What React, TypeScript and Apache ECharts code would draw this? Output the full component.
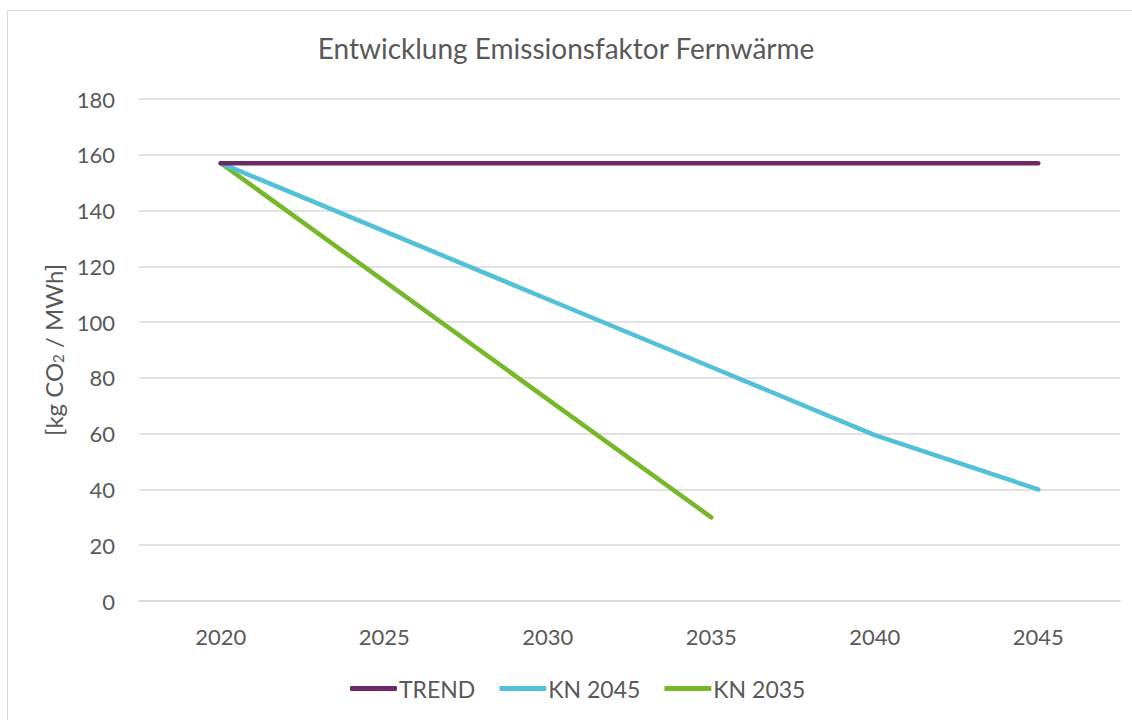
import React, { useEffect, useRef } from "react";
import * as echarts from "echarts";

const categories = ["2020", "2025", "2030", "2035", "2040", "2045"];
const trend = [157, 157, 157, 157, 157, 157];
const kn2045 = [157, 132.6, 108.2, 83.9, 59.5, 40];
const kn2035 = [157, 114.7, 72.3, 30, null, null];
const seriesNames = ["TREND", "KN 2045", "KN 2035"];
const colors = ["#6E2A66", "#52C0D9", "#76B82A"];

const FONT = "Lato";
const TEXT = "#595959";

export default function App() {
  const ref = useRef<HTMLDivElement>(null);
  useEffect(() => {
    const chart = echarts.init(ref.current!, null, { renderer: "svg" });
    const data = [trend, kn2045, kn2035];
    chart.setOption({
      animation: false,
      backgroundColor: "#ffffff",
      textStyle: { fontFamily: FONT },
      graphic: [
        {
          type: "rect",
          shape: { x: 7.5, y: 10.5, width: 1200, height: 800 },
          style: { fill: "none", stroke: "#d9d9d9", lineWidth: 1 },
          silent: true,
          z: -1,
        },
      ],
      title: {
        text: "Entwicklung Emissionsfaktor Fernwärme",
        left: "center",
        top: 29,
        textStyle: { fontFamily: FONT, fontSize: 28, fontWeight: "normal", color: TEXT },
      },
      legend: {
        bottom: 15,
        left: 345,
        itemWidth: 47,
        itemHeight: 5,
        itemGap: 24,
        icon: "roundRect",
        textStyle: { fontFamily: FONT, fontSize: 23, color: TEXT, padding: [0, 0, 0, -3] },
        data: seriesNames,
      },
      grid: { left: 139, right: 12, top: 99, bottom: 119 },
      xAxis: {
        type: "category",
        data: categories,
        boundaryGap: true,
        axisLine: { show: true, lineStyle: { color: "#d9d9d9", width: 1.5 } },
        axisTick: { show: false },
        axisLabel: { fontFamily: FONT, fontSize: 22, color: TEXT, margin: 24 },
      },
      yAxis: {
        type: "value",
        min: 0,
        max: 180,
        interval: 20,
        name: "{a|[kg CO}{s|2}{a| / MWh]}",
        nameLocation: "middle",
        nameGap: 72,
        nameRotate: 90,
        nameTextStyle: {
          rich: {
            a: { fontFamily: FONT, fontSize: 24, color: TEXT },
            s: { fontFamily: FONT, fontSize: 15, color: TEXT, verticalAlign: "bottom", padding: [10, 0, 0, 0] },
          },
        },
        axisLine: { show: false },
        axisTick: { show: false },
        axisLabel: { fontFamily: FONT, fontSize: 22, color: TEXT, margin: 24 },
        splitLine: { lineStyle: { color: "#d9d9d9", width: 1.5 } },
      },
      series: seriesNames.map((name, i) => ({
        name,
        type: "line",
        data: data[i],
        symbol: "none",
        color: colors[i],
        lineStyle: { width: 4.5, color: colors[i], cap: "round", join: "round" },
        z: 3 - i,
      })),
    });
    return () => chart.dispose();
  }, []);
  return (
    <div
      ref={ref}
      style={{ position: "fixed", left: 0, top: 0, width: 1132, height: 720 }}
    />
  );
}
